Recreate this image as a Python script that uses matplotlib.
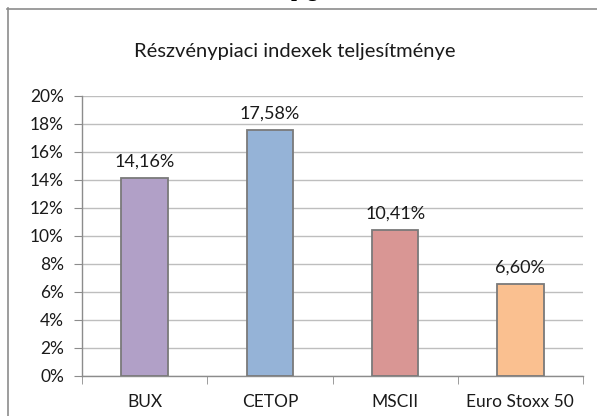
import matplotlib
matplotlib.use("Agg")
import matplotlib.pyplot as plt
from matplotlib.lines import Line2D
import numpy as np

categories = ["BUX", "CETOP", "MSCII", "Euro Stoxx 50"]
values = [14.16, 17.58, 10.41, 6.60]
value_labels = ["14,16%", "17,58%", "10,41%", "6,60%"]
colors = ["#B1A0C7", "#95B3D7", "#D99694", "#FAC090"]
yticks = [0, 2, 4, 6, 8, 10, 12, 14, 16, 18, 20]
ytick_labels = [f"{v}%" for v in yticks]
title = "Részvénypiaci indexek teljesítménye"

W, H = 597, 416
fig = plt.figure(figsize=(W / 100, H / 100), dpi=100)
fig.patch.set_facecolor("white")

# partially visible document text above the chart
fig.text(305 / W, 1 + 9 / H, "pig", family="Liberation Serif", fontweight="bold",
         fontsize=15, ha="center", va="center", color="black")

# chart border
fig.add_artist(Line2D([7.5 / W, 7.5 / W], [0, 1 - 8 / H], transform=fig.transFigure, color="#8C8C8C", lw=1.2))
fig.add_artist(Line2D([7 / W, 1], [1 - 8.5 / H, 1 - 8.5 / H], transform=fig.transFigure, color="#8C8C8C", lw=1.2))

ax = fig.add_axes([82 / W, 1 - 376 / H, (583 - 82) / W, (376 - 96) / H])
x = np.arange(len(categories))
ax.bar(x, values, width=0.37, color=colors, edgecolor="#7A7A7A", linewidth=1.3, zorder=3)
ax.set_xlim(-0.5, len(categories) - 0.5)
ax.set_ylim(0, 20)
ax.set_yticks(yticks)
ax.set_yticklabels(ytick_labels)
ax.yaxis.grid(True, color="#BEBEBE", linewidth=1.0, zorder=0)
ax.set_axisbelow(True)
for s in ["top", "right"]:
    ax.spines[s].set_visible(False)
ax.spines["left"].set_color("#8C8C8C")
ax.spines["bottom"].set_color("#8C8C8C")
ax.spines["left"].set_linewidth(1.0)
ax.spines["bottom"].set_linewidth(1.0)
ax.tick_params(axis="y", length=6, color="#8C8C8C", labelsize=12.5, pad=7, labelcolor="#1A1A1A")
ax.set_xticks(x)
ax.set_xticklabels(categories)
ax.tick_params(axis="x", length=0, labelsize=12.5, pad=13, labelcolor="#1A1A1A")
ax.set_xticks(np.arange(-0.5, len(categories), 1.0), minor=True)
ax.tick_params(axis="x", which="minor", length=6, color="#8C8C8C")
for lab in ax.get_xticklabels() + ax.get_yticklabels():
    lab.set_family("Lato")

for xi, v, lbl in zip(x, values, value_labels):
    ax.annotate(lbl, (xi, v), xytext=(0, 6), textcoords="offset points", ha="center", va="bottom",
                fontsize=13, family="Lato", color="#1A1A1A")

fig.text(295 / W, 1 - 52 / H, title, ha="center", va="center", fontsize=14.5, family="Lato", color="#1A1A1A")

fig.savefig("out.png", dpi=100)
